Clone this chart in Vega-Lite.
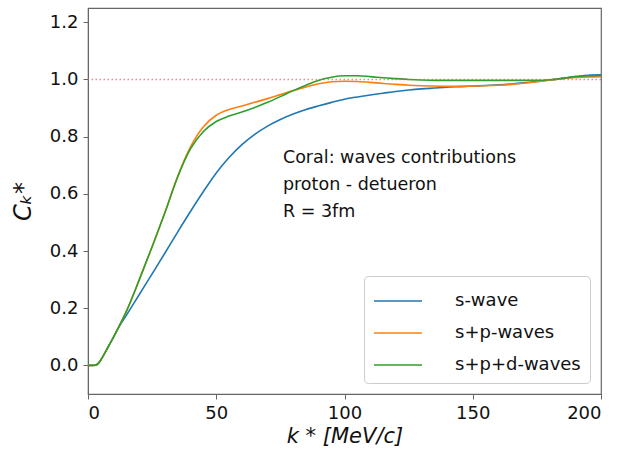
{
  "$schema": "https://vega.github.io/schema/vega-lite/v6.json",
  "autosize": "none",
  "width": 513,
  "height": 386,
  "padding": {"left": 88, "top": 8, "right": 25, "bottom": 57},
  "config": {
    "font": "DejaVu Sans",
    "view": {"stroke": "#666", "strokeWidth": 1.2},
    "axis": {"grid": false, "domainColor": "#666", "tickColor": "#666", "labelColor": "#111", "titleColor": "#111", "labelFont": "DejaVu Sans", "titleFont": "DejaVu Sans", "titleFontWeight": "normal", "titleFontStyle": "italic"}
  },
  "datasets": {
    "curves": [
      {"k": 0, "C": 0, "wave": "s-wave"},
      {"k": 3, "C": 0.001, "wave": "s-wave"},
      {"k": 4, "C": 0.007, "wave": "s-wave"},
      {"k": 5, "C": 0.019, "wave": "s-wave"},
      {"k": 6, "C": 0.034, "wave": "s-wave"},
      {"k": 8, "C": 0.067, "wave": "s-wave"},
      {"k": 10, "C": 0.1, "wave": "s-wave"},
      {"k": 12, "C": 0.133, "wave": "s-wave"},
      {"k": 15, "C": 0.176, "wave": "s-wave"},
      {"k": 20, "C": 0.248, "wave": "s-wave"},
      {"k": 25, "C": 0.32, "wave": "s-wave"},
      {"k": 30, "C": 0.393, "wave": "s-wave"},
      {"k": 35, "C": 0.467, "wave": "s-wave"},
      {"k": 40, "C": 0.539, "wave": "s-wave"},
      {"k": 45, "C": 0.608, "wave": "s-wave"},
      {"k": 50, "C": 0.673, "wave": "s-wave"},
      {"k": 55, "C": 0.727, "wave": "s-wave"},
      {"k": 60, "C": 0.772, "wave": "s-wave"},
      {"k": 65, "C": 0.808, "wave": "s-wave"},
      {"k": 70, "C": 0.837, "wave": "s-wave"},
      {"k": 75, "C": 0.86, "wave": "s-wave"},
      {"k": 80, "C": 0.879, "wave": "s-wave"},
      {"k": 85, "C": 0.895, "wave": "s-wave"},
      {"k": 90, "C": 0.908, "wave": "s-wave"},
      {"k": 95, "C": 0.92, "wave": "s-wave"},
      {"k": 100, "C": 0.931, "wave": "s-wave"},
      {"k": 105, "C": 0.939, "wave": "s-wave"},
      {"k": 110, "C": 0.946, "wave": "s-wave"},
      {"k": 115, "C": 0.952, "wave": "s-wave"},
      {"k": 120, "C": 0.958, "wave": "s-wave"},
      {"k": 125, "C": 0.963, "wave": "s-wave"},
      {"k": 130, "C": 0.967, "wave": "s-wave"},
      {"k": 135, "C": 0.97, "wave": "s-wave"},
      {"k": 140, "C": 0.973, "wave": "s-wave"},
      {"k": 145, "C": 0.975, "wave": "s-wave"},
      {"k": 150, "C": 0.977, "wave": "s-wave"},
      {"k": 155, "C": 0.979, "wave": "s-wave"},
      {"k": 160, "C": 0.981, "wave": "s-wave"},
      {"k": 165, "C": 0.984, "wave": "s-wave"},
      {"k": 170, "C": 0.988, "wave": "s-wave"},
      {"k": 175, "C": 0.993, "wave": "s-wave"},
      {"k": 180, "C": 0.998, "wave": "s-wave"},
      {"k": 185, "C": 1.004, "wave": "s-wave"},
      {"k": 190, "C": 1.01, "wave": "s-wave"},
      {"k": 195, "C": 1.015, "wave": "s-wave"},
      {"k": 200, "C": 1.016, "wave": "s-wave"},

      {"k": 0, "C": 0, "wave": "s+p-waves"},
      {"k": 3, "C": 0.001, "wave": "s+p-waves"},
      {"k": 4, "C": 0.007, "wave": "s+p-waves"},
      {"k": 5, "C": 0.019, "wave": "s+p-waves"},
      {"k": 6, "C": 0.034, "wave": "s+p-waves"},
      {"k": 8, "C": 0.067, "wave": "s+p-waves"},
      {"k": 10, "C": 0.1, "wave": "s+p-waves"},
      {"k": 12, "C": 0.135, "wave": "s+p-waves"},
      {"k": 15, "C": 0.19, "wave": "s+p-waves"},
      {"k": 20, "C": 0.3, "wave": "s+p-waves"},
      {"k": 25, "C": 0.415, "wave": "s+p-waves"},
      {"k": 30, "C": 0.535, "wave": "s+p-waves"},
      {"k": 35, "C": 0.662, "wave": "s+p-waves"},
      {"k": 40, "C": 0.765, "wave": "s+p-waves"},
      {"k": 45, "C": 0.835, "wave": "s+p-waves"},
      {"k": 50, "C": 0.875, "wave": "s+p-waves"},
      {"k": 55, "C": 0.895, "wave": "s+p-waves"},
      {"k": 60, "C": 0.907, "wave": "s+p-waves"},
      {"k": 65, "C": 0.92, "wave": "s+p-waves"},
      {"k": 70, "C": 0.933, "wave": "s+p-waves"},
      {"k": 75, "C": 0.947, "wave": "s+p-waves"},
      {"k": 80, "C": 0.961, "wave": "s+p-waves"},
      {"k": 85, "C": 0.974, "wave": "s+p-waves"},
      {"k": 90, "C": 0.985, "wave": "s+p-waves"},
      {"k": 95, "C": 0.992, "wave": "s+p-waves"},
      {"k": 100, "C": 0.994, "wave": "s+p-waves"},
      {"k": 105, "C": 0.993, "wave": "s+p-waves"},
      {"k": 110, "C": 0.99, "wave": "s+p-waves"},
      {"k": 115, "C": 0.986, "wave": "s+p-waves"},
      {"k": 120, "C": 0.983, "wave": "s+p-waves"},
      {"k": 125, "C": 0.98, "wave": "s+p-waves"},
      {"k": 130, "C": 0.978, "wave": "s+p-waves"},
      {"k": 135, "C": 0.977, "wave": "s+p-waves"},
      {"k": 140, "C": 0.976, "wave": "s+p-waves"},
      {"k": 145, "C": 0.976, "wave": "s+p-waves"},
      {"k": 150, "C": 0.977, "wave": "s+p-waves"},
      {"k": 155, "C": 0.978, "wave": "s+p-waves"},
      {"k": 160, "C": 0.98, "wave": "s+p-waves"},
      {"k": 165, "C": 0.983, "wave": "s+p-waves"},
      {"k": 170, "C": 0.987, "wave": "s+p-waves"},
      {"k": 175, "C": 0.992, "wave": "s+p-waves"},
      {"k": 180, "C": 0.998, "wave": "s+p-waves"},
      {"k": 185, "C": 1.003, "wave": "s+p-waves"},
      {"k": 190, "C": 1.007, "wave": "s+p-waves"},
      {"k": 195, "C": 1.009, "wave": "s+p-waves"},
      {"k": 200, "C": 1.01, "wave": "s+p-waves"},

      {"k": 0, "C": 0, "wave": "s+p+d-waves"},
      {"k": 3, "C": 0.001, "wave": "s+p+d-waves"},
      {"k": 4, "C": 0.007, "wave": "s+p+d-waves"},
      {"k": 5, "C": 0.019, "wave": "s+p+d-waves"},
      {"k": 6, "C": 0.034, "wave": "s+p+d-waves"},
      {"k": 8, "C": 0.067, "wave": "s+p+d-waves"},
      {"k": 10, "C": 0.1, "wave": "s+p+d-waves"},
      {"k": 12, "C": 0.135, "wave": "s+p+d-waves"},
      {"k": 15, "C": 0.19, "wave": "s+p+d-waves"},
      {"k": 20, "C": 0.3, "wave": "s+p+d-waves"},
      {"k": 25, "C": 0.415, "wave": "s+p+d-waves"},
      {"k": 30, "C": 0.535, "wave": "s+p+d-waves"},
      {"k": 35, "C": 0.66, "wave": "s+p+d-waves"},
      {"k": 40, "C": 0.758, "wave": "s+p+d-waves"},
      {"k": 45, "C": 0.818, "wave": "s+p+d-waves"},
      {"k": 50, "C": 0.853, "wave": "s+p+d-waves"},
      {"k": 55, "C": 0.872, "wave": "s+p+d-waves"},
      {"k": 60, "C": 0.886, "wave": "s+p+d-waves"},
      {"k": 65, "C": 0.902, "wave": "s+p+d-waves"},
      {"k": 70, "C": 0.92, "wave": "s+p+d-waves"},
      {"k": 75, "C": 0.94, "wave": "s+p+d-waves"},
      {"k": 80, "C": 0.961, "wave": "s+p+d-waves"},
      {"k": 85, "C": 0.98, "wave": "s+p+d-waves"},
      {"k": 90, "C": 0.997, "wave": "s+p+d-waves"},
      {"k": 95, "C": 1.008, "wave": "s+p+d-waves"},
      {"k": 100, "C": 1.013, "wave": "s+p+d-waves"},
      {"k": 105, "C": 1.013, "wave": "s+p+d-waves"},
      {"k": 110, "C": 1.01, "wave": "s+p+d-waves"},
      {"k": 115, "C": 1.006, "wave": "s+p+d-waves"},
      {"k": 120, "C": 1.003, "wave": "s+p+d-waves"},
      {"k": 125, "C": 1.0, "wave": "s+p+d-waves"},
      {"k": 130, "C": 0.998, "wave": "s+p+d-waves"},
      {"k": 135, "C": 0.997, "wave": "s+p+d-waves"},
      {"k": 140, "C": 0.997, "wave": "s+p+d-waves"},
      {"k": 145, "C": 0.997, "wave": "s+p+d-waves"},
      {"k": 150, "C": 0.997, "wave": "s+p+d-waves"},
      {"k": 155, "C": 0.997, "wave": "s+p+d-waves"},
      {"k": 160, "C": 0.997, "wave": "s+p+d-waves"},
      {"k": 165, "C": 0.997, "wave": "s+p+d-waves"},
      {"k": 170, "C": 0.997, "wave": "s+p+d-waves"},
      {"k": 175, "C": 0.997, "wave": "s+p+d-waves"},
      {"k": 180, "C": 0.999, "wave": "s+p+d-waves"},
      {"k": 185, "C": 1.004, "wave": "s+p+d-waves"},
      {"k": 190, "C": 1.01, "wave": "s+p+d-waves"},
      {"k": 195, "C": 1.013, "wave": "s+p+d-waves"},
      {"k": 200, "C": 1.014, "wave": "s+p+d-waves"}
    ]
  },
  "layer": [
    {
      "data": {"name": "curves"},
      "mark": {"type": "line", "strokeWidth": 1.6, "interpolate": "monotone", "clip": true},
      "encoding": {
        "x": {"field": "k", "type": "quantitative", "scale": {"domain": [0, 200], "nice": false},
          "axis": {"values": [0, 50, 100, 150, 200], "title": "k * [MeV/c]", "labelFontSize": 18, "titleFontSize": 21, "tickSize": 5, "labelPadding": 5, "titlePadding": 3}},
        "y": {"field": "C", "type": "quantitative", "scale": {"domain": [-0.1, 1.25], "nice": false, "zero": false},
          "axis": {"values": [0, 0.2, 0.4, 0.6, 0.8, 1.0, 1.2], "format": ".1f", "title": "Cₖ*", "labelFontSize": 18, "titleFontSize": 24, "tickSize": 5, "labelPadding": 5, "titlePadding": 14}},
        "color": {"field": "wave", "type": "nominal", "sort": ["s-wave", "s+p-waves", "s+p+d-waves"],
          "scale": {"domain": ["s-wave", "s+p-waves", "s+p+d-waves"], "range": ["#1f77b4", "#ff7f0e", "#2ca02c"]},
          "legend": {"title": null, "orient": "bottom-right", "offset": 11, "symbolType": "M-1.6,0H1.6", "symbolSize": 900, "symbolStrokeWidth": 1.6, "symbolOffset": 9, "labelFontSize": 18, "labelFont": "DejaVu Sans", "labelColor": "#111", "rowPadding": 7, "labelOffset": 41, "strokeColor": "#ccc", "cornerRadius": 4, "padding": 9, "fillColor": "white"}}
      }
    },
    {
      "data": {"values": [{"one": 1}]},
      "mark": {"type": "rule", "color": "#f06060", "strokeDash": [1.5, 2.5], "strokeWidth": 1.5, "opacity": 0.75},
      "encoding": {"y": {"datum": 1}}
    },
    {
      "data": {"values": [{"one": 1}]},
      "mark": {"type": "text", "text": ["Coral: waves contributions", "proton - detueron", "R = 3fm"], "align": "left", "baseline": "middle", "fontSize": 17.5, "lineHeight": 27, "font": "DejaVu Sans", "color": "#111"},
      "encoding": {"x": {"datum": 76}, "y": {"datum": 0.725}}
    }
  ]
}
